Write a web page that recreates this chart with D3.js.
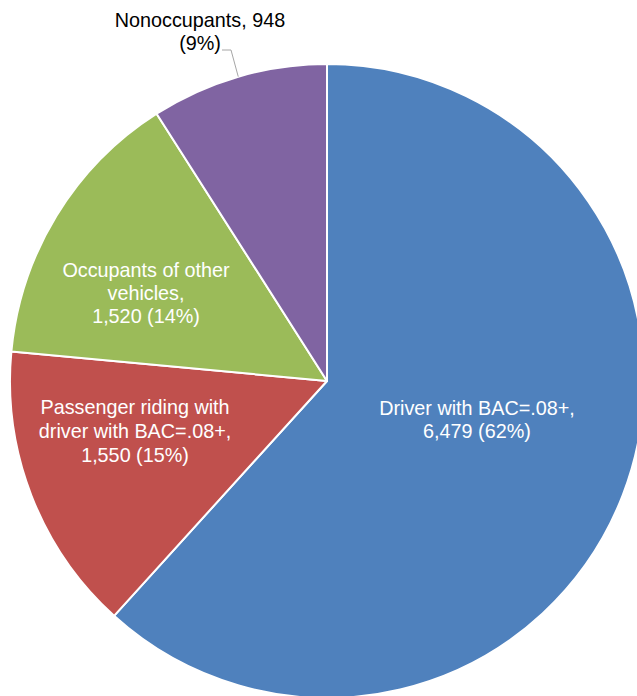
<!DOCTYPE html>
<html>
<head>
<meta charset="utf-8">
<script src="https://cdn.jsdelivr.net/npm/d3@7"></script>
<style>
  html, body { margin: 0; padding: 0; background: #fff; }
  svg { display: block; }
  text { font-family: "Liberation Sans", Arial, sans-serif; }
</style>
</head>
<body>
<svg id="chart" width="637" height="696"></svg>
<script>
const categories = ["Driver with BAC=.08+", "Passenger riding with driver with BAC=.08+", "Occupants of other vehicles", "Nonoccupants"];
const values = [6479, 1550, 1520, 948];
const percents = ["62%", "15%", "14%", "9%"];
const colors = ["#4F81BD", "#C0504D", "#9BBB59", "#8064A2"];
const labelLines = [
  ["Driver with BAC=.08+,", "6,479 (62%)"],
  ["Passenger riding with", "driver with BAC=.08+,", "1,550 (15%)"],
  ["Occupants of other", "vehicles,", "1,520 (14%)"],
  ["Nonoccupants, 948", "(9%)"]
];

const svg = d3.select("#chart");
const cx = 327, cy = 381, R = 317;

const pie = d3.pie().sort(null).value(d => d)(values);
const arc = d3.arc().innerRadius(0).outerRadius(R);

const g = svg.append("g").attr("transform", `translate(${cx},${cy})`);
g.selectAll("path").data(pie).join("path")
  .attr("d", arc)
  .attr("fill", (d, i) => colors[i])
  .attr("stroke", "#fff")
  .attr("stroke-width", 2)
  .attr("stroke-linejoin", "round");

// label positions (relative to pie center)
const labelPos = [
  {x: 150, y: 34, lh: 23, fill: "#fff"},
  {x: -192, y: 33, lh: 24, fill: "#fff"},
  {x: -181, y: -104, lh: 23, fill: "#fff"},
  {x: -127, y: -354, lh: 23, fill: "#000"}
];

labelLines.forEach((lines, i) => {
  const p = labelPos[i];
  const t = g.append("text")
    .attr("text-anchor", "middle")
    .attr("font-size", 19.8)
    .attr("fill", p.fill);
  lines.forEach((ln, j) => {
    t.append("tspan").attr("x", p.x).attr("y", p.y + j * p.lh).text(ln);
  });
});

// leader line for Nonoccupants
const midAngle = (pie[3].startAngle + pie[3].endAngle) / 2;
const edge = [Math.sin(midAngle) * R, -Math.cos(midAngle) * R];
g.append("polyline")
  .attr("points", [[-105, -331], [-96, -331], edge].map(p => p.join(",")).join(" "))
  .attr("fill", "none")
  .attr("stroke", "#A6A6A6")
  .attr("stroke-width", 1);
</script>
</body>
</html>
